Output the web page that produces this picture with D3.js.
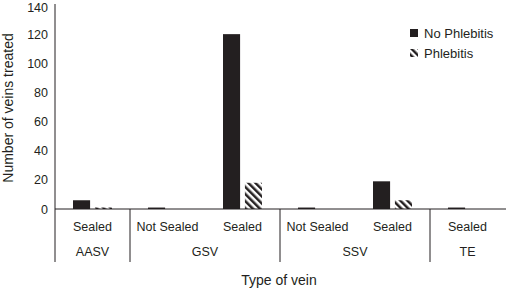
<!DOCTYPE html>
<html>
<head>
<meta charset="utf-8">
<script src="https://cdn.jsdelivr.net/npm/d3@7"></script>
<style>
  body { margin: 0; background: #fff; }
  svg { display: block; font-family: Arial, Helvetica, sans-serif; }
</style>
</head>
<body>
<div id="chart"></div>
<script>
// chart data
const categories = ['AASV|Sealed', 'GSV|Not Sealed', 'GSV|Sealed', 'SSV|Not Sealed', 'SSV|Sealed', 'TE|Sealed'];
const subLabels = ['Sealed', 'Not Sealed', 'Sealed', 'Not Sealed', 'Sealed', 'Sealed'];
const groups = ['AASV', 'GSV', 'SSV', 'TE'];
const groupSpans = [1, 2, 2, 1];
const series = ['No Phlebitis', 'Phlebitis'];
const noPhlebitis = [6, 1, 120, 1, 19, 1];
const phlebitis = [1, 0, 18, 0, 6, 0];
const yTicks = [0, 20, 40, 60, 80, 100, 120, 140];

const width = 506, height = 288;
const margin = {left: 55, right: 1, top: 5, bottom: 79};
const ink = '#231f20';
const font = 'Arial, Helvetica, sans-serif';

const svg = d3.select('#chart').append('svg')
    .attr('width', width)
    .attr('height', height);

// hatch pattern for phlebitis bars
const defs = svg.append('defs');
defs.append('pattern')
    .attr('id', 'hatch')
    .attr('patternUnits', 'userSpaceOnUse')
    .attr('width', 5)
    .attr('height', 5)
    .attr('patternTransform', 'rotate(-45)')
  .append('rect')
    .attr('width', 2.5)
    .attr('height', 5)
    .attr('fill', ink);

const x = d3.scaleBand()
    .domain(categories)
    .range([margin.left, margin.left + 450]);

const y = d3.scaleLinear()
    .domain([0, 140])
    .range([height - margin.bottom, margin.top]);

const y0 = y(0);

// sub scale: bars sit around the middle of each category
const xs = d3.scaleBand()
    .domain(series)
    .range([-19.5, 19.5])
    .paddingInner(0.22);

const rows = categories.map((c, i) => ({cat: c, values: [noPhlebitis[i], phlebitis[i]]}));

// bars
const barG = svg.append('g');
rows.forEach(r => {
    const cx = x(r.cat) + x.bandwidth() / 2;
    r.values.forEach((v, j) => {
        if (v <= 0) return;
        barG.append('rect')
            .attr('x', cx + xs(series[j]))
            .attr('y', y(v))
            .attr('width', xs.bandwidth())
            .attr('height', y0 - y(v))
            .attr('fill', j === 0 ? ink : 'url(#hatch)');
    });
});

// y axis
const yAxis = svg.append('g')
    .attr('transform', `translate(${margin.left},0)`)
    .call(d3.axisLeft(y).tickValues(yTicks).tickSize(0).tickPadding(7));
yAxis.select('.domain').remove();
yAxis.selectAll('text')
    .attr('font-size', 12.5)
    .attr('fill', ink)
    .attr('font-family', font)
    .attr('dy', d => d === 140 ? '0.55em' : '0.32em');

const lineBottom = 262;
svg.append('line')
    .attr('x1', margin.left).attr('x2', margin.left)
    .attr('y1', 4).attr('y2', lineBottom)
    .attr('stroke', ink).attr('stroke-width', 1);

// x axis baseline
svg.append('line')
    .attr('x1', margin.left).attr('x2', width)
    .attr('y1', y0).attr('y2', y0)
    .attr('stroke', ink).attr('stroke-width', 1);

// category labels
svg.append('g').selectAll('text')
    .data(categories)
    .join('text')
    .attr('x', d => x(d) + x.bandwidth() / 2)
    .attr('y', 231)
    .attr('text-anchor', 'middle')
    .attr('font-size', 12.5)
    .attr('fill', ink)
    .text((d, i) => subLabels[i]);

// group labels and separators
let idx = 0;
groups.forEach((g, i) => {
    const start = x(categories[idx]);
    const end = x(categories[idx + groupSpans[i] - 1]) + x.bandwidth();
    svg.append('text')
        .attr('x', (start + end) / 2)
        .attr('y', 256)
        .attr('text-anchor', 'middle')
        .attr('font-size', 12.5)
        .attr('fill', ink)
        .text(g);
    if (i > 0) {
        svg.append('line')
            .attr('x1', start).attr('x2', start)
            .attr('y1', y0).attr('y2', lineBottom)
            .attr('stroke', ink).attr('stroke-width', 1);
    }
    idx += groupSpans[i];
});

// axis titles
svg.append('text')
    .attr('x', 279)
    .attr('y', 285)
    .attr('text-anchor', 'middle')
    .attr('font-size', 14)
    .attr('fill', ink)
    .text('Type of vein');

svg.append('text')
    .attr('transform', `translate(13,${108}) rotate(-90)`)
    .attr('text-anchor', 'middle')
    .attr('font-size', 14)
    .attr('fill', ink)
    .text('Number of veins treated');

// legend
const legend = svg.selectAll('.legend')
    .data(series)
    .enter()
    .append('g')
    .attr('class', 'legend')
    .attr('transform', (d, i) => `translate(410,${29 + i * 20})`);

legend.append('rect')
    .attr('width', 8)
    .attr('height', 8)
    .attr('fill', (d, i) => i === 0 ? ink : 'url(#hatch)');

legend.append('text')
    .attr('x', 14)
    .attr('y', 4)
    .attr('dy', '0.35em')
    .attr('font-size', 13)
    .attr('fill', ink)
    .text(d => d);
</script>
</body>
</html>
